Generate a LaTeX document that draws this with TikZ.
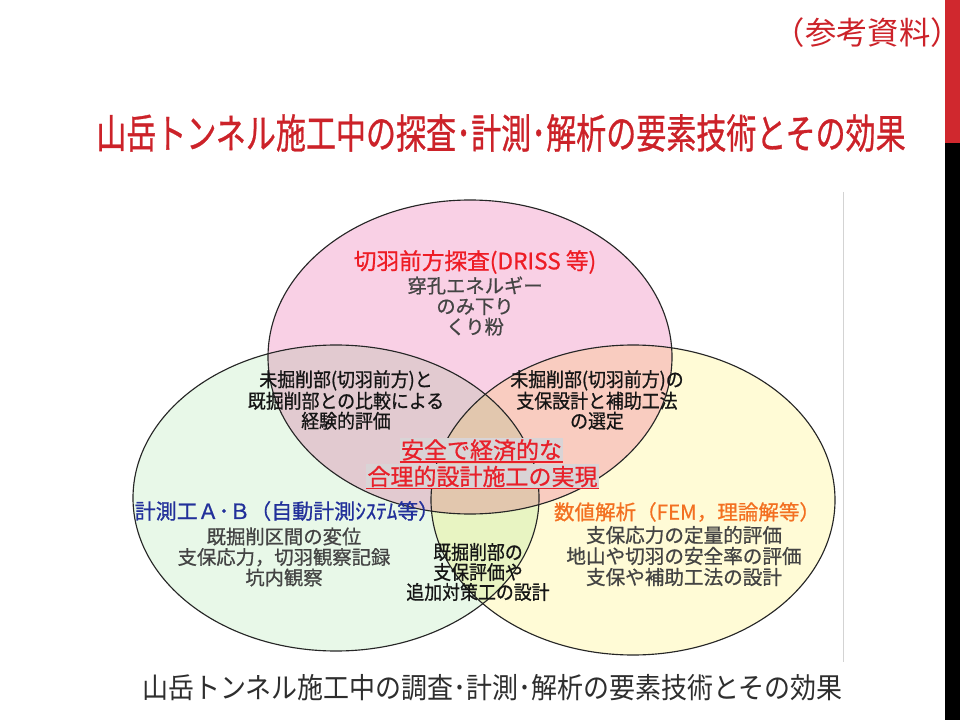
\documentclass[tikz,border=0pt]{standalone}
\usepackage{fontspec}
\usepackage{graphicx}
\newfontfamily\jp{Noto Sans CJK JP}
\newfontfamily\jpB[FakeBold=0.8]{Noto Sans CJK JP}
\newfontfamily\jpC[FakeStretch=0.92,FakeBold=0.8]{Noto Sans CJK JP}
\newcommand\fitto[2]{\resizebox{#1}{\height}{#2}}
\definecolor{titlered}{HTML}{CC2229}
\definecolor{barred}{HTML}{D0282E}
\definecolor{hdred}{HTML}{EE1C25}
\definecolor{cred}{HTML}{E8202A}
\definecolor{boxgray}{HTML}{D9D4D6}
\definecolor{bodygray}{HTML}{444444}
\definecolor{darktext}{HTML}{151515}
\definecolor{hdblue}{HTML}{22309A}
\definecolor{hdorange}{HTML}{F37021}
\definecolor{pinkF}{HTML}{F9D0E5}
\definecolor{greenF}{HTML}{E8F8E8}
\definecolor{yellowF}{HTML}{FFFBD6}
\definecolor{capgray}{HTML}{2E2E2E}
\definecolor{rule}{HTML}{D3D3D3}
\begin{document}
\begin{tikzpicture}[x=0.75pt,y=0.75pt,
  every node/.style={inner sep=0pt},
  outline/.style={draw=black!85, line width=0.85pt},
  bodytext/.style={align=center, text=bodygray, font=\jpB\fontsize{14.5}{15.4}\selectfont},
  isect/.style={align=center, text=darktext, font=\jpC\fontsize{14.6}{15}\selectfont},
  centerbox/.style={fill=boxgray, text=cred, inner xsep=0.8pt, inner ysep=1.2pt, font=\jpB\fontsize{17.25}{20}\selectfont},
  uline/.style={cred, line width=1.1pt}]
\useasboundingbox (0,0) rectangle (960,-720);
\fill[white] (0,0) rectangle (960,-720);

% thin frame line at right of the figure
\draw[rule, line width=0.7pt] (843,-192) -- (843,-662);

% Venn fills
\begin{scope}[blend group=multiply]
  \fill[greenF]  (336,-498) ellipse [x radius=203, y radius=153];
  \fill[yellowF] (633,-500) ellipse [x radius=202, y radius=155];
  \fill[pinkF]   (470,-357) ellipse [x radius=202, y radius=157];
\end{scope}
\draw[outline] (336,-498) ellipse [x radius=203, y radius=153];
\draw[outline] (633,-500) ellipse [x radius=202, y radius=155];
\draw[outline] (470,-357) ellipse [x radius=202, y radius=157];

% titles
\node[font=\jp\fontsize{23.5}{26}\selectfont, text=titlered, anchor=east] (ref) at (962,-33) {（参考資料）};
\node[font=\jpB\fontsize{30.5}{32}\selectfont, text=titlered] (title) at (501,-133)
  {\fitto{607pt}{山岳トンネル施工中の探査･計測･解析の要素技術とその効果}};
\node[font=\jp\fontsize{21.5}{24}\selectfont, text=capgray] (caption) at (492.5,-688)
  {\fitto{525pt}{山岳トンネル施工中の調査･計測･解析の要素技術とその効果}};

% pink circle
\node[font=\jpB\fontsize{17}{18}\selectfont, text=hdred] (hdpink) at (475,-262) {切羽前方探査(DRISS 等)};
\node[bodytext] (bodypink) at (475,-306) {穿孔エネルギー\\のみ下り\\くり粉};

% green circle
\node[font=\jpB\fontsize{15.75}{18}\selectfont, text=hdblue] (hdgreen) at (287,-511) {計測工Ａ･Ｂ（自動計測ｼｽﾃﾑ等）};
\node[bodytext] (bodygreen) at (284,-557) {既掘削区間の変位\\支保応力，切羽観察記録\\坑内観察};

% yellow circle
\node[font=\jpB\fontsize{15.4}{18}\selectfont, text=hdorange] (hdyellow) at (687,-512) {数値解析（FEM，理論解等）};
\node[bodytext, font=\jpB\fontsize{14.7}{15.75}\selectfont] (bodyyellow) at (684,-556) {支保応力の定量的評価\\地山や切羽の安全率の評価\\支保や補助工法の設計};

% intersections
\node[isect] (pg) at (346,-400) {未掘削部(切羽前方)と\\既掘削部との比較による\\経験的評価};
\node[isect] (py) at (597,-400) {未掘削部(切羽前方)の\\支保設計と補助工法\\の選定};
\node[isect] (gy) at (478,-572) {既掘削部の\\支保評価や\\追加対策工の設計};

% center
\node[centerbox] (c1) at (481.5,-450) {安全で経済的な};
\node[centerbox] (c2) at (482.5,-476.5) {合理的設計施工の実現};
\draw[uline] ([yshift=0.6pt]c1.south west) -- ([yshift=0.6pt]c1.south east);
\draw[uline] ([yshift=0.6pt]c2.south west) -- ([yshift=0.6pt]c2.south east);

% right edge bar
\fill[barred] (945,0) rectangle (960,-143);
\fill[black] (945,-143) rectangle (960,-720);
\end{tikzpicture}
\end{document}
